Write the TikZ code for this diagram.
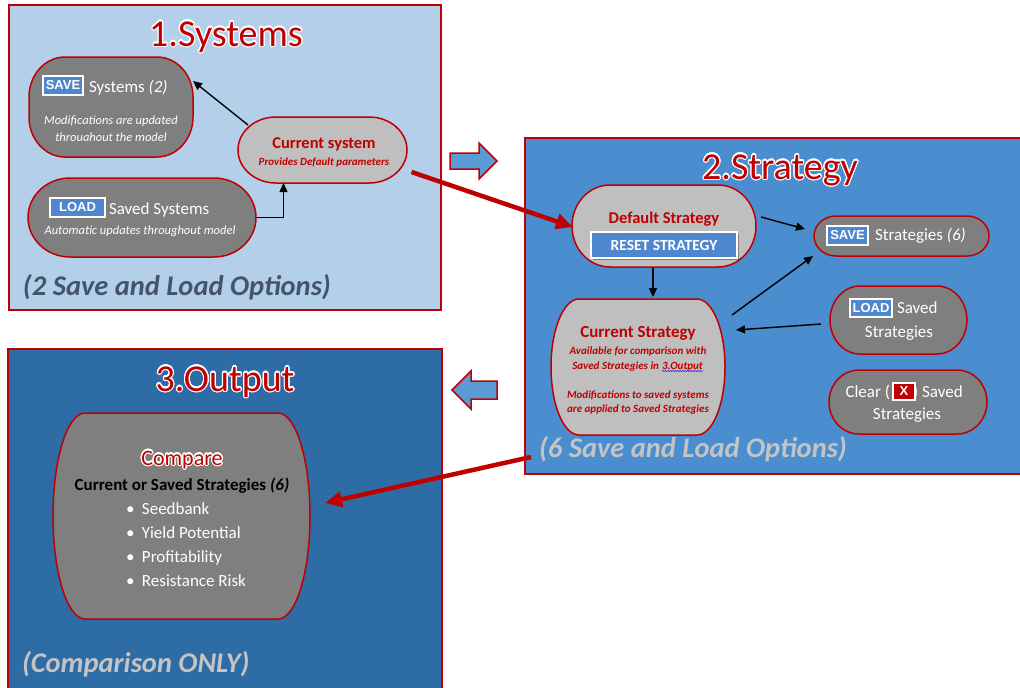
\documentclass[tikz,border=0pt]{standalone}
\usepackage{fontspec}
\setmainfont{Carlito}
\newfontfamily\arialf{Liberation Sans}
\usepackage{contour}
\contourlength{1.2pt}
\contournumber{16}
\usetikzlibrary{arrows.meta,calc,shadows,decorations.pathmorphing}
\pgfdeclarelayer{panels}
\pgfdeclarelayer{shapes}
\pgfsetlayers{panels,shapes,main}
\definecolor{bred}{RGB}{192,0,0}
\definecolor{pA}{RGB}{180,207,233}
\definecolor{pB}{RGB}{74,142,208}
\definecolor{pC}{RGB}{46,108,166}
\definecolor{dgray}{RGB}{127,127,127}
\definecolor{lgray}{RGB}{191,191,191}
\definecolor{btnblue}{RGB}{79,135,207}
\definecolor{noteA}{RGB}{68,84,106}
\definecolor{noteB}{RGB}{196,196,196}
\definecolor{arrblue}{RGB}{91,155,213}
\definecolor{squig}{RGB}{60,60,220}
\newcommand\fsz[2]{\fontsize{#1}{#2}\selectfont}
\newcommand\capsule[4]{%
  \path[draw=bred,line width=1.5pt,fill=#4]
    ([xshift=#2]#1.north west) -- ([xshift=-#2]#1.north east)
    arc[start angle=90,end angle=0,x radius=#2,y radius=#3]
    -- ([yshift=#3]#1.south east)
    arc[start angle=0,end angle=-90,x radius=#2,y radius=#3]
    -- ([xshift=#2]#1.south west)
    arc[start angle=-90,end angle=-180,x radius=#2,y radius=#3]
    -- ([yshift=-#3]#1.north west)
    arc[start angle=180,end angle=90,x radius=#2,y radius=#3] -- cycle;}
\begin{document}
\begin{tikzpicture}[x=1pt,y=-1pt,
  every node/.style={inner sep=0pt,outer sep=0pt},
  panel/.style={draw=bred,line width=2pt},
  box/.style={},
  title/.style={anchor=base,text=bred,font=\fsz{38}{42}},
  wtxt/.style={anchor=base,text=white,font=\fsz{17}{20}},
  wsmall/.style={anchor=base,text=white,font=\itshape\fsz{12.5}{15}},
  rtxtb/.style={anchor=base,text=bred,font=\bfseries\fsz{16.5}{20}},
  rsmall/.style={anchor=base,text=bred,font=\bfseries\itshape\fsz{11}{13}},
  note/.style={anchor=base west,font=\bfseries\itshape\fsz{28.5}{32}},
  btn/.style={draw=white,line width=1.5pt,fill=btnblue,text=white,font=\arialf\bfseries\fsz{13}{13},
    drop shadow={shadow xshift=1.2pt,shadow yshift=-1.2pt,opacity=0.35,fill=black}},
  xbtn/.style={draw=white,line width=1.5pt,fill=bred,text=white,font=\arialf\bfseries\fsz{13}{13},
    drop shadow={shadow xshift=1.2pt,shadow yshift=-1.2pt,opacity=0.35,fill=black}},
  resetbtn/.style={draw=white,line width=2.5pt,fill=btnblue,text=white,font=\bfseries\fsz{15.5}{18},
    drop shadow={shadow xshift=1.5pt,shadow yshift=-1.5pt,opacity=0.35,fill=black}},
  barrow/.style={draw=black,line width=1.4pt,-{Triangle[length=9pt,width=8pt]}},
  rarrow/.style={draw=bred,line width=4.5pt,-{Triangle[length=17pt,width=15pt]}},
  blockarrow/.style={draw=bred,line width=1.5pt,fill=arrblue,line join=miter},
  wavy/.style={draw=squig,line width=0.6pt,decorate,decoration={snake,amplitude=0.7pt,segment length=2.5pt}}]
\useasboundingbox (0,0) rectangle (1020,688);
% panels
\begin{pgfonlayer}{panels}
\node[panel,fill=pA,minimum width=432pt,minimum height=305pt] (p1) at (225,157.5) {};
\node[panel,fill=pB,minimum width=500pt,minimum height=336pt] (p2) at (775,306) {};
\node[panel,fill=pC,minimum width=434pt,minimum height=345pt] (p3) at (225,521.5) {};
\end{pgfonlayer}
% ---------- panel 1 ----------
\node[title] (t1) at (226,46) {\contour{white}{1.Systems}};
\node[box,minimum width=164pt,minimum height=100pt] (ss) at (111,107) {};
\node[box,minimum width=169pt,minimum height=66pt] (cs) at (322.5,150) {};
\node[box,minimum width=228pt,minimum height=79pt] (ls) at (142,217.5) {};
\begin{pgfonlayer}{shapes}
\capsule{ss}{36pt}{40pt}{dgray}
\capsule{cs}{38pt}{33pt}{lgray}
\capsule{ls}{42pt}{39.5pt}{dgray}
\end{pgfonlayer}
\node[btn,minimum width=40pt,minimum height=19pt] (ssb) at (63,85.5) {SAVE};
\node[wtxt,anchor=base west] (sst) at (89,92) {Systems \textit{(2)}};
\node[wsmall] (ssm1) at (111,124) {Modifications are updated};
\node[wsmall] (ssm2) at (111,141) {throuahout the model};
\node[rtxtb] (cst) at (324,148) {Current system};
\node[rsmall] (csm) at (324,165) {Provides Default parameters};
\node[btn,minimum width=55pt,minimum height=19pt] (lsb) at (77.5,207.5) {LOAD};
\node[wtxt,anchor=base west] (lst) at (109,214) {Saved Systems};
\node[wsmall] (lsm) at (140,234) {Automatic updates throughout model};
\node[note,text=noteA] (n1) at (23,295) {(2 Save and Load Options)};
% ---------- panel 2 ----------
\node[title] (t2) at (780,179) {\contour{white}{2.Strategy}};
\node[box,minimum width=184pt,minimum height=82pt] (ds) at (664,226) {};
\node[box,minimum width=175pt,minimum height=40pt] (sv) at (901.5,236) {};
\node[box,minimum width=174pt,minimum height=136pt] (cur) at (638,367) {};
\node[box,minimum width=137pt,minimum height=68pt] (lv) at (898.5,320) {};
\node[box,minimum width=158pt,minimum height=64pt] (cl) at (908,402) {};
\begin{pgfonlayer}{shapes}
\capsule{ds}{38pt}{41pt}{lgray}
\capsule{sv}{22pt}{20pt}{dgray}
\capsule{cur}{28pt}{68pt}{lgray}
\capsule{lv}{30pt}{34pt}{dgray}
\capsule{cl}{30pt}{32pt}{dgray}
\end{pgfonlayer}
\node[rtxtb] (dst) at (664,223) {Default Strategy};
\node[resetbtn,minimum width=146pt,minimum height=26pt] (rs) at (664,245) {RESET STRATEGY};
\node[btn,minimum width=41pt,minimum height=19pt] (svb) at (847.5,235.5) {SAVE};
\node[wtxt,anchor=base west] (svt) at (875,240) {Strategies \textit{(6)}};
\node[rtxtb,font=\bfseries\fsz{17}{20}] (curt) at (638,337) {Current Strategy};
\node[rsmall] (cur1) at (638,354) {Available for comparison with};
\node[rsmall,anchor=base east] (cur2a) at (659,369) {Saved Strategies in};
\node[rsmall,anchor=base west] (cur2b) at (662,369) {3.Output};
\draw[wavy] ($(cur2b.base west)+(0,2)$) -- ($(cur2b.base east)+(0,2)$);
\node[rsmall] (cur3) at (638,398) {Modifications to saved systems};
\node[rsmall] (cur4) at (638,412) {are applied to Saved Strategies};
\node[btn,minimum width=42pt,minimum height=18pt] (lvb) at (871,308) {LOAD};
\node[wtxt,anchor=base west] (lvt1) at (897,313) {Saved};
\node[wtxt] (lvt2) at (899,337) {Strategies};
\node[wtxt,anchor=base east] (clt1) at (890,397) {Clear (};
\node[wtxt,anchor=base west] (clt2) at (913,397) {)\hspace{4pt}Saved};
\node[xbtn,minimum width=22pt,minimum height=17pt] (clb) at (904,391.5) {X};
\node[wtxt] (clt3) at (907,419) {Strategies};
\node[note,text=noteB] (n2) at (539,457) {(6 Save and Load Options)};
% ---------- panel 3 ----------
\node[title] (t3) at (225,391) {\contour{white}{3.Output}};
\node[box,minimum width=257pt,minimum height=206pt] (cmp) at (181.5,516) {};
\begin{pgfonlayer}{shapes}
\capsule{cmp}{32pt}{103pt}{dgray}
\end{pgfonlayer}
\node[anchor=base,text=bred,font=\fsz{22}{26}] (cmpt) at (182,465) {\contour{white}{Compare}};
\node[anchor=base,text=black,font=\bfseries\fsz{17}{20}] (cmps) at (182,490) {Current or Saved Strategies \textit{(6)}};
\node[wtxt,anchor=base west] (b1) at (126,514) {\makebox[16pt][l]{\textbullet}Seedbank};
\node[wtxt,anchor=base west] (b2) at (126,538) {\makebox[16pt][l]{\textbullet}Yield Potential};
\node[wtxt,anchor=base west] (b3) at (126,562) {\makebox[16pt][l]{\textbullet}Profitability};
\node[wtxt,anchor=base west] (b4) at (126,586) {\makebox[16pt][l]{\textbullet}Resistance Risk};
\node[note,text=noteB] (n3) at (22,672) {(Comparison ONLY)};
% ---------- block arrows ----------
\draw[blockarrow] (450,153) -- (479,153) -- (479,143) -- (497,161) -- (479,179) -- (479,169) -- (450,169) -- cycle;
\draw[blockarrow] (497,381) -- (471,381) -- (471,371) -- (452,390) -- (471,409) -- (471,399) -- (497,399) -- cycle;
% ---------- connectors ----------
\draw[barrow] ($(cs.north west)+(10,8)$) -- ($(ss.east)+(0,-26)$);
\draw[barrow] (ls.east) -| ($(cs.south)+(-39,0)$);
\draw[barrow] ($(ds.east)+(5,-9)$) -- ($(sv.west)+(-9,-7)$);
\draw[barrow] ($(ds.south)+(-11,1)$) -- ($(cur.north)+(15,-2)$);
\draw[barrow] ($(cur.east)+(7,-52)$) -- ($(sv.south west)+(-1,0)$);
\draw[barrow] ($(lv.west)+(-9,4)$) -- ($(cur.east)+(11,-37)$);
\draw[rarrow] ($(cs.east)+(4.5,22)$) -- ($(ds.west)+(1,1)$);
\draw[rarrow] ($(n2.base west)+(-8,0)$) -- ($(cmp.east)+(15,-13)$);
\end{tikzpicture}
\end{document}
